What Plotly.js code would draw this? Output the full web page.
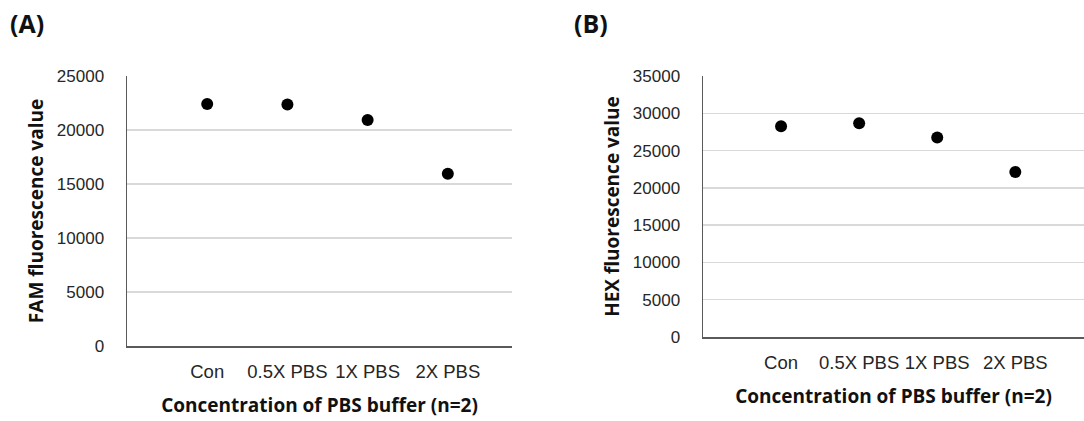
<!DOCTYPE html>
<html><head><meta charset="utf-8">
<script src="https://cdn.plot.ly/plotly-3.0.1.min.js"></script>
<style>html,body{margin:0;padding:0;background:#fff}#chart{width:1084px;height:421px}</style>
</head><body><div id="chart"></div>
<script>
const categories = ["Con", "0.5X PBS", "1X PBS", "2X PBS"];
const catPositions = [1, 2, 3, 4];
const famValues = [22400, 22370, 20930, 15950];
const hexValues = [28250, 28650, 26750, 22130];
const famTicks = [0, 5000, 10000, 15000, 20000, 25000];
const hexTicks = [0, 5000, 10000, 15000, 20000, 25000, 30000, 35000];

const W = 1084, H = 421;
const yTickFont = {family: "Liberation Sans, Arial, sans-serif", size: 17, color: "#262626"};
const xTickFont = {family: "Liberation Sans, Arial, sans-serif", size: 18.5, color: "#262626"};
const titleFont = {family: "Open Sans, sans-serif", size: 19, color: "#111", weight: "bold"};
const marker = {color: "#000", size: 12, symbol: "circle"};

const traces = [
  {x: catPositions, y: famValues, type: "scatter", mode: "markers", marker: marker, xaxis: "x", yaxis: "y", hoverinfo: "y"},
  {x: catPositions, y: hexValues, type: "scatter", mode: "markers", marker: marker, xaxis: "x2", yaxis: "y2", hoverinfo: "y"}
];

function xAx(domain, range) {
  return {domain: domain, range: range, tickmode: "array", tickvals: catPositions, ticktext: categories,
    showgrid: false, zeroline: false, showline: true, linecolor: "#5a5a5a", linewidth: 1.5,
    ticks: "", tickfont: xTickFont, ticklabelstandoff: 8,
    title: {text: "Concentration of PBS buffer (n=2)", font: titleFont, standoff: 18}, fixedrange: true};
}
function yAx(domain, range, ticks, title, anchor) {
  return {domain: domain, range: range, tickmode: "array", tickvals: ticks, ticktext: ticks.map(String),
    showgrid: true, gridcolor: "#d9d9d9", gridwidth: 1.5, zeroline: false, showline: true,
    linecolor: "#5a5a5a", linewidth: 1.5, ticks: "", tickfont: yTickFont, ticklabelstandoff: 18,
    title: {text: title, font: titleFont, standoff: 8}, anchor: anchor, fixedrange: true};
}

const layout = {
  width: W, height: H, margin: {l: 0, r: 0, t: 0, b: 0},
  paper_bgcolor: "#fff", plot_bgcolor: "#fff", showlegend: false,
  xaxis: Object.assign(xAx([127 / W, 512 / W], [0, 4.8]), {anchor: "y"}),
  yaxis: yAx([1 - 346 / H, 1 - 76 / H], [0, 25000], famTicks, "FAM fluorescence value", "x"),
  xaxis2: Object.assign(xAx([703 / W, 1], [0, 4.88]), {anchor: "y2"}),
  yaxis2: yAx([1 - 337 / H, 1 - 76 / H], [0, 35000], hexTicks, "HEX fluorescence value", "x2"),
  annotations: [
    {text: "(A)", xref: "paper", yref: "paper", x: 8 / W, y: 1 - 23 / H, xanchor: "left", yanchor: "middle",
     showarrow: false, font: {family: "Open Sans, sans-serif", size: 25, color: "#111", weight: "bold"}},
    {text: "(B)", xref: "paper", yref: "paper", x: 572 / W, y: 1 - 23 / H, xanchor: "left", yanchor: "middle",
     showarrow: false, font: {family: "Open Sans, sans-serif", size: 25, color: "#111", weight: "bold"}}
  ]
};
Plotly.newPlot("chart", traces, layout, {displayModeBar: false, staticPlot: true});
</script></body></html>
